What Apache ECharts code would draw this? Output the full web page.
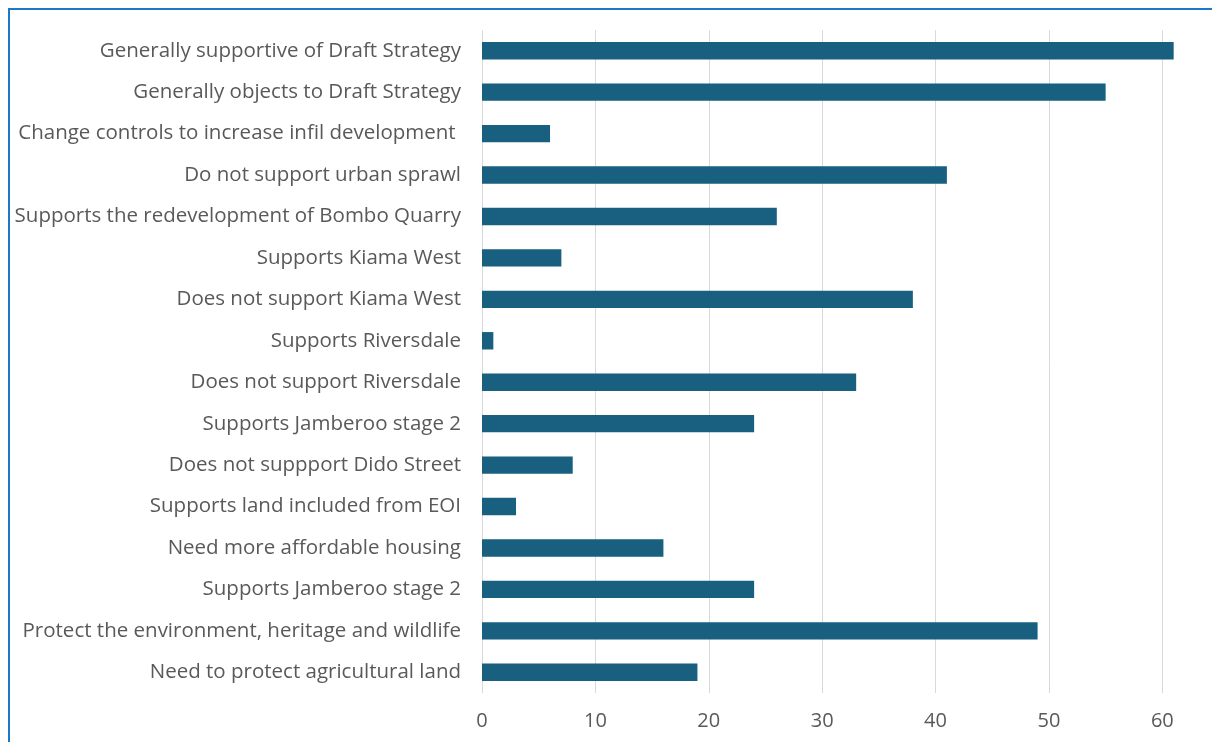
<!DOCTYPE html>
<html>
<head>
<meta charset="utf-8">
<script src="https://cdn.jsdelivr.net/npm/echarts@6/dist/echarts.min.js"></script>
<style>
html,body{margin:0;padding:0;background:#fff;}
#chart{width:1212px;height:742px;}
</style>
</head>
<body>
<div id="chart"></div>
<script>
const categories = [
  "Generally supportive of Draft Strategy",
  "Generally objects to Draft Strategy",
  "Change controls to increase infil development ",
  "Do not support urban sprawl",
  "Supports the redevelopment of Bombo Quarry",
  "Supports Kiama West",
  "Does not support Kiama West",
  "Supports Riversdale",
  "Does not support Riversdale",
  "Supports Jamberoo stage 2",
  "Does not suppport Dido Street",
  "Supports land included from EOI",
  "Need more affordable housing",
  "Supports Jamberoo stage 2",
  "Protect the environment, heritage and wildlife",
  "Need to protect agricultural land"
];
const values = [61, 55, 6, 41, 26, 7, 38, 1, 33, 24, 8, 3, 16, 24, 49, 19];

const chart = echarts.init(document.getElementById('chart'), null, {renderer: 'canvas'});
chart.setOption({
  animation: false,
  backgroundColor: '#ffffff',
  graphic: [{
    type: 'rect',
    shape: {x: 9, y: 9, width: 1400, height: 900},
    style: {fill: 'none', stroke: '#1f77c8', lineWidth: 2},
    z: 100
  }],
  grid: {left: 482, top: 30, bottom: 49, right: 27, containLabel: false},
  xAxis: {
    type: 'value',
    min: 0, max: 62, interval: 10,
    axisLine: {show: false},
    axisTick: {show: false},
    splitLine: {show: true, showMaxLine: false, lineStyle: {color: '#d9d9d9', width: 1}},
    axisLabel: {color: '#595959', fontFamily: 'Open Sans', fontSize: 20, margin: 18, showMaxLabel: false}
  },
  yAxis: {
    type: 'category',
    inverse: true,
    data: categories,
    axisLine: {show: false},
    axisTick: {show: false},
    axisLabel: {color: '#595959', fontFamily: 'Open Sans', fontSize: 20.5, margin: 21, interval: 0}
  },
  series: [{
    type: 'bar',
    data: values,
    barCategoryGap: '58%',
    itemStyle: {color: '#185f80'}
  }]
});
</script>
</body>
</html>
